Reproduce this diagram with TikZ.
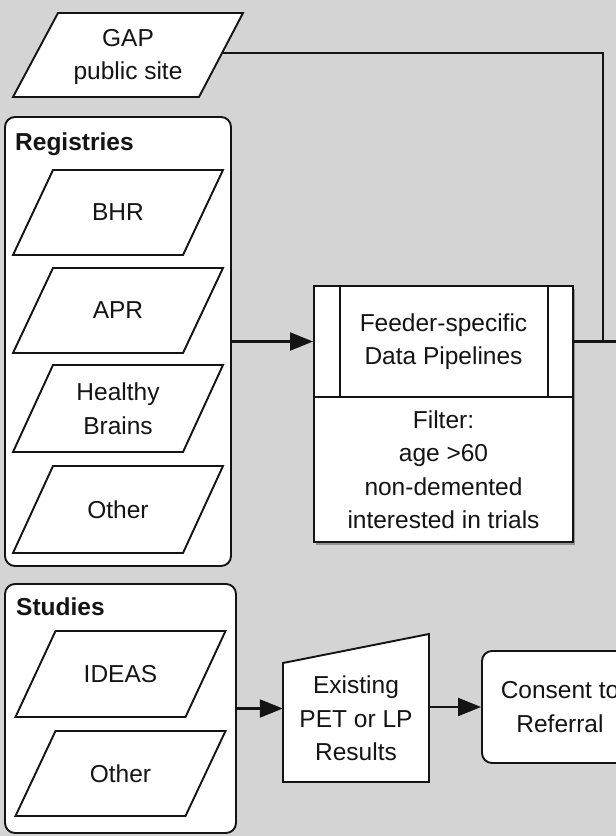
\documentclass[tikz,border=0pt]{standalone}
\usepackage{fontspec}
\setmainfont{Liberation Sans}
\usetikzlibrary{arrows.meta,shadows}
\definecolor{bg}{RGB}{212,212,212}
\definecolor{ink}{RGB}{20,20,20}
\newcommand{\paral}[5]{%
  \draw[shape line] (#2-65,#3-#4) -- (#2+105,#3-#4) -- (#2+65,#3+#4) -- (#2-105,#3+#4) -- cycle;
  \node (#1) at (#2,#3) {#5};}
\begin{document}
\begin{tikzpicture}[x=1pt,y=-1pt,
  every node/.style={font=\fontsize{24.5}{33.5}\selectfont, text=ink, align=center, inner sep=0pt},
  shape line/.style={draw=ink, line width=1.9pt, fill=white},
  thin line/.style={draw=ink, line width=1.9pt},
  conn/.style={line width=2.1pt, draw=ink},
  arr/.style={conn, -{Triangle[length=23pt,width=18pt]}},
  container/.style={shape line, rounded corners=10pt},
  title/.style={font=\fontsize{24.5}{30}\selectfont\bfseries, anchor=west},
  shadowed/.style={drop shadow={shadow xshift=2pt, shadow yshift=-3pt, opacity=0.3, fill=black}},
]
\useasboundingbox (0,0) rectangle (616,836);
\clip (0,0) rectangle (616,836);
\fill[bg] (0,0) rectangle (616,836);

% GAP public site
\draw[shape line] (58,13) -- (243,13) -- (199,97) -- (13,97) -- cycle;
\node (gap) at (128,57) {GAP\\public site};
\coordinate (gapout) at (222,53);

% Registries
\node[container, minimum width=226pt, minimum height=449pt] (reg) at (118,341.5) {};
\node[title] (regt) at (15,144) {Registries};
\paral{bhr}{118}{212.5}{42.5}{BHR}
\paral{apr}{118}{310.5}{42.5}{APR}
\paral{hb}{118}{408.5}{43.5}{Healthy\\Brains}
\paral{rother}{118}{509.5}{43.5}{Other}

% Feeder-specific pipelines
\node[shape line, shadowed, minimum width=259pt, minimum height=111pt] (pipe) at (443.5,341.5) {Feeder-specific\\Data Pipelines};
\node[shape line, shadowed, minimum width=259pt, minimum height=145pt] (filter) at (443.5,469.5) {Filter:\\age >60\\non-demented\\interested in trials};
\draw[thin line] ([xshift=27pt]pipe.north west) -- ([xshift=27pt]pipe.south west);
\draw[thin line] ([xshift=-26pt]pipe.north east) -- ([xshift=-26pt]pipe.south east);

\coordinate (join) at (603,341.5);
\coordinate (rightend) at (616,341.5);
\draw[arr] (reg.east) -- (pipe.west);
\draw[conn] (pipe.east) -- (rightend);
\draw[conn] (gapout) -| (join);

% Studies
\node[container, minimum width=231pt, minimum height=249pt] (stu) at (120.5,708.5) {};
\node[title] (stut) at (16,607) {Studies};
\paral{ideas}{120.5}{674}{43}{IDEAS}
\paral{sother}{120.5}{773.5}{42.5}{Other}

% Existing PET or LP results (manual input)
\draw[shape line] (283,663) -- (429,634) -- (429,782) -- (283,782) -- cycle;
\node[minimum width=146pt] (pet) at (356,718.5) {Existing\\PET or LP\\Results};

% Consent to referral (cut off at the right edge, as in the reference)
\node[container, minimum width=156pt, minimum height=112pt] (consent) at (560,707) {Consent to\\Referral};

\draw[arr] (stu.east) -- (stu.east -| pet.west);
\draw[arr] (pet.east |- consent.west) -- (consent.west);
\end{tikzpicture}
\end{document}
